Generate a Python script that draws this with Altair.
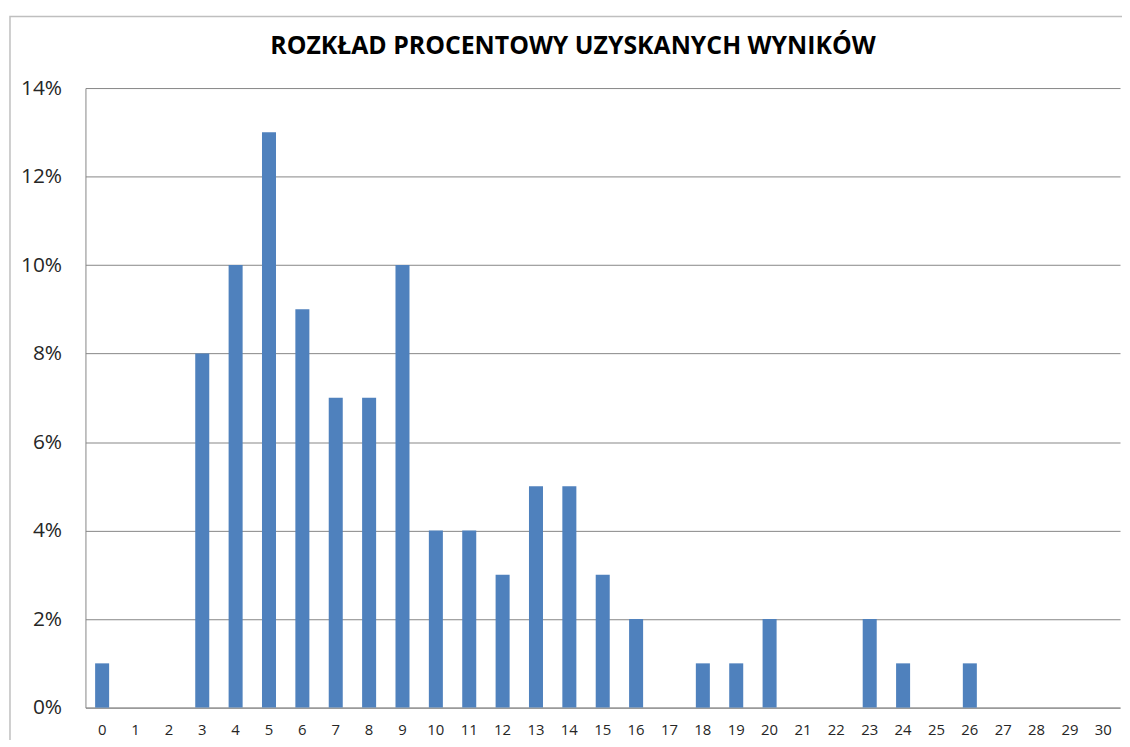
import altair as alt
import pandas as pd

scores = [str(i) for i in range(31)]
percent = [1, 0, 0, 8, 10, 13, 9, 7, 7, 10, 4, 4, 3, 5, 5, 3, 2, 0, 1, 1, 2, 0, 0, 2, 1, 0, 1, 0, 0, 0, 0]
title_text = "ROZKŁAD PROCENTOWY UZYSKANYCH WYNIKÓW"

df = pd.DataFrame({"wynik": scores, "udzial": [p / 100 for p in percent]})

bars = alt.Chart(df).mark_bar(color="#4F81BD").encode(
    x=alt.X("wynik:N", sort=scores,
            scale=alt.Scale(paddingInner=0.58, paddingOuter=0.29),
            axis=alt.Axis(title=None, labelAngle=0, ticks=False, labelPadding=15,
                          labelFontSize=15, labelColor="#262626", labelFont="Open Sans",
                          domainColor="#868686", grid=False)),
    y=alt.Y("udzial:Q", scale=alt.Scale(domain=[0, 0.14], nice=False),
            axis=alt.Axis(title=None, format=".0%", values=[0, 0.02, 0.04, 0.06, 0.08, 0.10, 0.12, 0.14],
                          ticks=False, labelPadding=24, labelFontSize=21, labelColor="#262626",
                          labelFont="Open Sans", domainColor="#868686", gridColor="#868686",
                          gridWidth=1)),
)

frame = alt.Chart(pd.DataFrame({"a": [0]})).mark_rect(fill=None, stroke="#BFBFBF", strokeWidth=1.5).encode(
    x=alt.value(-76), x2=alt.value(1060), y=alt.value(-72), y2=alt.value(700)
)

title = alt.Chart(pd.DataFrame({"t": [title_text]})).mark_text(
    font="Open Sans", fontSize=25, fontWeight="bold", color="#000000", align="center", baseline="middle"
).encode(text="t:N", x=alt.value(491), y=alt.value(-42))

chart = alt.layer(frame, bars, title).properties(
    width=1042, height=624,
    autosize=alt.AutoSizeParams(type="none"),
    padding={"left": 78, "top": 78, "right": 2, "bottom": 30},
).configure_view(stroke=None)

chart.save("out.html", embed_options={"renderer": "svg", "actions": False})
